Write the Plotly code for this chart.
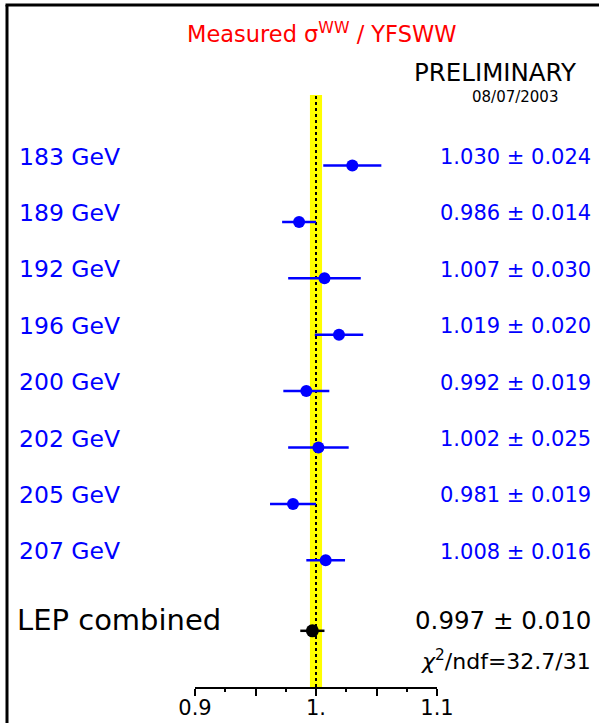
import plotly.graph_objects as go

# ---- data ----
energies = ["183 GeV", "189 GeV", "192 GeV", "196 GeV", "200 GeV", "202 GeV", "205 GeV", "207 GeV"]
ratios = [1.030, 0.986, 1.007, 1.019, 0.992, 1.002, 0.981, 1.008]
errors = [0.024, 0.014, 0.030, 0.020, 0.019, 0.025, 0.019, 0.016]
rows = [0, 1, 2, 3, 4, 5, 6, 7]
combined_label = "LEP combined"
combined_value = 0.997
combined_error = 0.010
combined_row = 8.25
chi2_text = "<i>χ</i><sup>2</sup>/ndf=32.7/31"
theory_center = 1.0
theory_halfwidth = 0.005
tick_vals = [0.9, 0.95, 1.0, 1.05, 1.1]
tick_text = ["0.9", "", "1.", "", "1.1"]

W, H = 599, 723
L, R, T, B = 195, 162, 95, 36
pw, ph = W - L - R, H - T - B

def px(xpix):
    return (xpix - L) / pw

def py(ypix):
    return (H - B - ypix) / ph

FONT = "DejaVu Sans"
BLUE = "#0000ff"

fig = go.Figure()

fig.add_trace(go.Scatter(
    x=ratios, y=rows, mode="markers",
    marker=dict(color=BLUE, size=12, line=dict(width=0)),
    error_x=dict(type="data", array=errors, color=BLUE, thickness=2.5, width=0),
    showlegend=False, hoverinfo="skip"))

fig.add_trace(go.Scatter(
    x=[combined_value], y=[combined_row], mode="markers",
    marker=dict(color="black", size=13, line=dict(width=0)),
    error_x=dict(type="data", array=[combined_error], color="black", thickness=2.5, width=0),
    showlegend=False, hoverinfo="skip"))

shapes = [
    dict(type="rect", xref="x", yref="paper",
         x0=theory_center - theory_halfwidth, x1=theory_center + theory_halfwidth,
         y0=0, y1=1, fillcolor="#ffff00", line=dict(width=0), layer="below"),
    dict(type="line", xref="x", yref="paper", x0=theory_center, x1=theory_center,
         y0=0, y1=1, line=dict(color="black", width=2, dash="3px,3px"), layer="below"),
    # frame
    dict(type="line", xref="paper", yref="paper", x0=px(7), x1=px(7), y0=py(5), y1=py(740),
         line=dict(color="black", width=3)),
    dict(type="line", xref="paper", yref="paper", x0=px(5.5), x1=px(620), y0=py(5), y1=py(5),
         line=dict(color="black", width=3)),
]

ann = []
for lab, val, err, r in zip(energies, ratios, errors, rows):
    ann.append(dict(x=px(17), xref="paper", y=r, yref="y", yshift=9,
                    text=lab, showarrow=False, xanchor="left", yanchor="middle",
                    font=dict(family=FONT, size=23.5, color=BLUE)))
    ann.append(dict(x=px(593), xref="paper", y=r, yref="y", yshift=8.5,
                    text=f"{val:.3f} ± {err:.3f}", showarrow=False, xanchor="right", yanchor="middle",
                    font=dict(family=FONT, size=21, color=BLUE)))

ann.append(dict(x=px(15), xref="paper", y=combined_row, yref="y", yshift=11,
                text=combined_label, showarrow=False, xanchor="left", yanchor="middle",
                font=dict(family=FONT, size=29, color="black")))
ann.append(dict(x=px(593), xref="paper", y=combined_row, yref="y", yshift=10.5,
                text=f"{combined_value:.3f} ± {combined_error:.3f}", showarrow=False,
                xanchor="right", yanchor="middle",
                font=dict(family=FONT, size=24.5, color="black")))
ann.append(dict(x=px(593), xref="paper", y=py(660), yref="paper",
                text=chi2_text, showarrow=False, xanchor="right", yanchor="middle",
                font=dict(family=FONT, size=22, color="black")))
ann.append(dict(x=px(321), xref="paper", y=py(32), yref="paper",
                text="Measured σ<sup>WW</sup> / YFSWW", showarrow=False,
                xanchor="center", yanchor="middle",
                font=dict(family=FONT, size=22.5, color="#ff0000")))
ann.append(dict(x=px(495.5), xref="paper", y=py(72), yref="paper",
                text="PRELIMINARY", showarrow=False, xanchor="center", yanchor="middle",
                font=dict(family=FONT, size=24.5, color="black")))
ann.append(dict(x=px(514.5), xref="paper", y=py(97), yref="paper",
                text="08/07/2003", showarrow=False, xanchor="center", yanchor="middle",
                font=dict(family=FONT, size=15, color="black")))

row_top = (T - 165.5) / 56.4
row_bot = (H - B - 165.5) / 56.4

fig.update_layout(
    template="none",
    width=W, height=H,
    margin=dict(l=L, r=R, t=T, b=B, pad=0, autoexpand=False),
    paper_bgcolor="white", plot_bgcolor="white",
    shapes=shapes, annotations=ann,
    xaxis=dict(range=[0.9, 1.1], showgrid=False, zeroline=False, automargin=False,
               showline=True, linecolor="black", linewidth=1.5,
               ticks="outside", ticklen=7, tickwidth=1.5, tickcolor="black",
               tickvals=tick_vals, ticktext=tick_text, ticklabelstandoff=-6,
               tickfont=dict(family=FONT, size=21, color="black"),
               minor=dict(ticks="outside", ticklen=3.5, tickwidth=1.5, tickcolor="black", dtick=0.025),
               fixedrange=True),
    yaxis=dict(range=[row_bot, row_top], visible=False, showgrid=False, zeroline=False,
               automargin=False, fixedrange=True),
)

fig.write_html("out.html", config={"displayModeBar": False},
               post_script="document.body.style.margin='0';document.body.style.overflow='hidden';")
